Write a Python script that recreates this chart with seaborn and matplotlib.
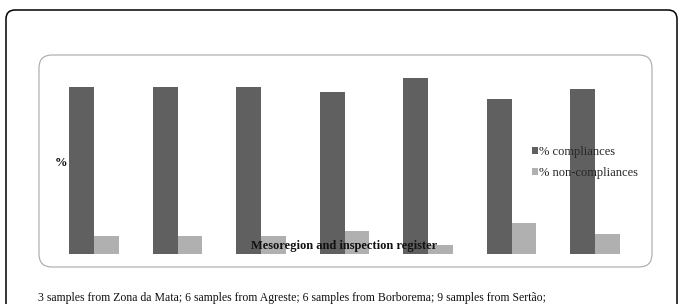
import matplotlib
matplotlib.use("Agg")
import matplotlib.pyplot as plt
import matplotlib.transforms as mtransforms
from matplotlib.patches import FancyBboxPatch
import seaborn as sns
import pandas as pd

# ---- data ----
groups = ["1", "2", "3", "4", "5", "6", "7"]
compliances = [90.0, 90.0, 90.0, 87.5, 95.0, 83.3, 88.9]
non_compliances = [10.0, 10.0, 10.0, 12.5, 5.0, 16.7, 11.1]
series_names = ["% compliances", "% non-compliances"]
x_label = "Mesoregion and inspection register"
y_label = "%"
footer = "3 samples from Zona da Mata; 6 samples from Agreste; 6 samples from Borborema; 9 samples from Sertão;"

df = pd.DataFrame({
    "group": groups * 2,
    "value": compliances + non_compliances,
    "series": [series_names[0]] * len(groups) + [series_names[1]] * len(groups),
})

sns.set_theme(style="white")
plt.rcParams["font.family"] = ["Liberation Serif", "DejaVu Serif"]

W, H = 678, 304
fig = plt.figure(figsize=(W / 100, H / 100), dpi=100)
ident = mtransforms.IdentityTransform()

# outer frame (black rounded)
outer = FancyBboxPatch((6, -30), 671, 294 + 30, boxstyle="round,pad=0,rounding_size=9",
                       transform=ident, facecolor="none", edgecolor="black", linewidth=1.1)
fig.add_artist(outer)
# inner frame (gray rounded)
inner = FancyBboxPatch((39, H - 267), 613, 212, boxstyle="round,pad=0,rounding_size=13",
                       transform=ident, facecolor="none", edgecolor="#a8a8a8", linewidth=0.8)
fig.add_artist(inner)

# axes positioned so bars land where they are in the reference
left = 52.25 / W
width = 584.5 / W
bottom = (H - 254.3) / H
height = 186.0 / H
ax = fig.add_axes([left, bottom, width, height])
ax.patch.set_alpha(0)

sns.barplot(data=df, x="group", y="value", hue="series",
            palette=["#606060", "#b0b0b0"], width=0.59, saturation=1,
            linewidth=0, ax=ax)
ax.set_xlim(-0.5, 6.5)
ax.set_ylim(0, 100)
for s in ax.spines.values():
    s.set_visible(False)
ax.set_xticks([])
ax.set_yticks([])
ax.set_xlabel("")
ax.set_ylabel("")

sns.move_legend(ax, "upper left", bbox_to_anchor=(531.5 / W, (H - 146) / H),
                bbox_transform=fig.transFigure, frameon=False, title=None,
                fontsize=9, handlelength=0.48, handleheight=0.48,
                handletextpad=0.15, labelspacing=0.75, borderpad=0, borderaxespad=0)

fig.text(344.5 / W, (H - 246) / H, x_label, ha="center", va="center",
         fontsize=9, fontweight="bold", color="#111111")
fig.text(61 / W, (H - 163) / H, y_label, ha="center", va="center",
         fontsize=9, fontweight="bold", color="#111111")
fig.text(38 / W, (H - 298) / H, footer, ha="left", va="center",
         fontsize=8.45, color="#111111")

fig.savefig("out.png", dpi=100)
